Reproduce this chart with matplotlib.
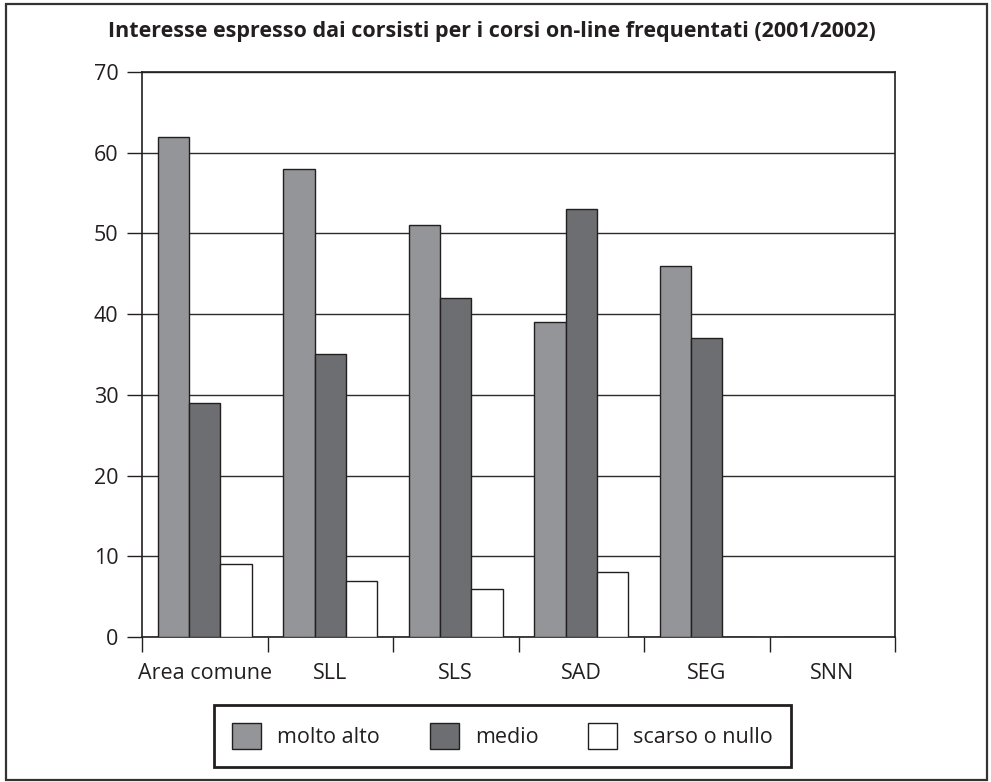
import numpy as np
import matplotlib
matplotlib.use("Agg")
import matplotlib.pyplot as plt
from matplotlib.patches import Rectangle

# -----------------------------------------------------
# DATI
# -----------------------------------------------------
categorie = ["Area comune", "SLL", "SLS", "SAD", "SEG", "SNN"]
molto_alto = [62, 58, 51, 39, 46, 0]
medio = [29, 35, 42, 53, 37, 0]
scarso_nullo = [9, 7, 6, 8, 0, 0]

serie = [
    ("molto alto", molto_alto, "#939598"),
    ("medio", medio, "#6d6e71"),
    ("scarso o nullo", scarso_nullo, "#ffffff"),
]

titolo = "Interesse espresso dai corsisti per i corsi on-line frequentati (2001/2002)"

plt.rcParams["font.family"] = ["Open Sans", "DejaVu Sans"]
EDGE = "#231f20"
FS = 15.5

fig = plt.figure(figsize=(9.91, 7.82), dpi=100)
ax = fig.add_axes([142 / 991, 1 - 637 / 782, 753 / 991, 565 / 782])

# -----------------------------------------------------
# BARRE
# -----------------------------------------------------
x = np.arange(len(categorie))
larghezza = 0.25
for i, (nome, valori, colore) in enumerate(serie):
    ax.bar(x + (i - 1) * larghezza, valori, width=larghezza, color=colore,
           edgecolor=EDGE, linewidth=1.0, label=nome, zorder=3)

ax.set_xlim(-0.5, len(categorie) - 0.5)
ax.set_ylim(0, 70)
ax.set_yticks(range(0, 71, 10))
ax.yaxis.grid(True, color="#2b2b2b", linewidth=1.0, zorder=0)
ax.set_axisbelow(True)

# tacche ai bordi delle categorie, etichette al centro
ax.set_xticks(np.arange(len(categorie) + 1) - 0.5)
ax.set_xticklabels([])
ax.set_xticks(x, minor=True)
ax.set_xticklabels(categorie, minor=True)
ax.tick_params(axis="x", which="major", direction="out", length=11, width=1.0, color=EDGE)
ax.tick_params(axis="x", which="minor", length=0, pad=19, labelsize=FS, labelcolor=EDGE)
ax.tick_params(axis="y", direction="out", length=11, width=1.0, color=EDGE, pad=6,
               labelsize=FS, labelcolor=EDGE)

for s in ax.spines.values():
    s.set_color(EDGE)
    s.set_linewidth(1.2)

fig.text(0.496, 1 - 32 / 782, titolo, ha="center", va="center",
         fontsize=15.5, fontweight="bold", color=EDGE)

leg = fig.legend(loc="center", bbox_to_anchor=(0.507, 1 - 736 / 782), ncol=3,
                 fontsize=FS, frameon=True, fancybox=False, framealpha=1.0,
                 handlelength=1.35, handleheight=1.5, handletextpad=0.75,
                 columnspacing=2.3, borderpad=0.85, borderaxespad=0)
leg.get_frame().set_edgecolor(EDGE)
leg.get_frame().set_linewidth(2.0)
for t in leg.get_texts():
    t.set_color(EDGE)

# cornice esterna
fig.add_artist(Rectangle((6 / 991, 1 - 780 / 782), 981 / 991, 776 / 782,
                         transform=fig.transFigure, fill=False,
                         edgecolor="#333333", linewidth=1.6))

fig.savefig("out.png", dpi=100)
